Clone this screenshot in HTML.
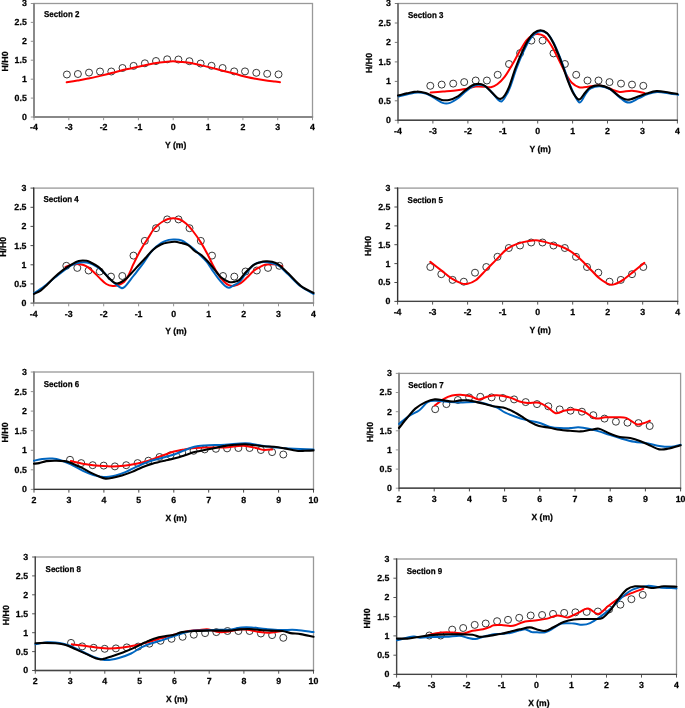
<!DOCTYPE html>
<html><head><meta charset="utf-8"><style>
html,body{margin:0;padding:0;background:#fff;width:685px;height:708px;overflow:hidden}
svg{display:block;will-change:transform}
text{text-rendering:geometricPrecision;font-family:"Liberation Sans",sans-serif;font-weight:bold;font-size:8.8px;fill:#000;stroke:#000;stroke-width:0.25px}
</style></head><body>
<svg width="685" height="708" viewBox="0 0 685 708"><g><rect x="34.0" y="3.5" width="278.5" height="113.5" fill="none" stroke="#999" stroke-width="1.3"/>
<line x1="34.0" y1="2.9" x2="34.0" y2="117.6" stroke="#888" stroke-width="1.9"/>
<line x1="33.4" y1="117.0" x2="313.1" y2="117.0" stroke="#888" stroke-width="1.9"/>
<line x1="30.8" y1="117.0" x2="34.0" y2="117.0" stroke="#888" stroke-width="0.9"/>
<text x="26.8" y="119.9" text-anchor="end">0</text>
<line x1="30.8" y1="98.1" x2="34.0" y2="98.1" stroke="#888" stroke-width="0.9"/>
<text x="26.8" y="101.0" text-anchor="end">0.5</text>
<line x1="30.8" y1="79.2" x2="34.0" y2="79.2" stroke="#888" stroke-width="0.9"/>
<text x="26.8" y="82.1" text-anchor="end">1</text>
<line x1="30.8" y1="60.2" x2="34.0" y2="60.2" stroke="#888" stroke-width="0.9"/>
<text x="26.8" y="63.1" text-anchor="end">1.5</text>
<line x1="30.8" y1="41.3" x2="34.0" y2="41.3" stroke="#888" stroke-width="0.9"/>
<text x="26.8" y="44.2" text-anchor="end">2</text>
<line x1="30.8" y1="22.4" x2="34.0" y2="22.4" stroke="#888" stroke-width="0.9"/>
<text x="26.8" y="25.3" text-anchor="end">2.5</text>
<line x1="30.8" y1="3.5" x2="34.0" y2="3.5" stroke="#888" stroke-width="0.9"/>
<text x="26.8" y="6.4" text-anchor="end">3</text>
<line x1="34.0" y1="117.0" x2="34.0" y2="120.2" stroke="#888" stroke-width="0.9"/>
<text x="34.0" y="130.4" text-anchor="middle">-4</text>
<line x1="68.8" y1="117.0" x2="68.8" y2="120.2" stroke="#888" stroke-width="0.9"/>
<text x="68.8" y="130.4" text-anchor="middle">-3</text>
<line x1="103.6" y1="117.0" x2="103.6" y2="120.2" stroke="#888" stroke-width="0.9"/>
<text x="103.6" y="130.4" text-anchor="middle">-2</text>
<line x1="138.4" y1="117.0" x2="138.4" y2="120.2" stroke="#888" stroke-width="0.9"/>
<text x="138.4" y="130.4" text-anchor="middle">-1</text>
<line x1="173.2" y1="117.0" x2="173.2" y2="120.2" stroke="#888" stroke-width="0.9"/>
<text x="173.2" y="130.4" text-anchor="middle">0</text>
<line x1="208.1" y1="117.0" x2="208.1" y2="120.2" stroke="#888" stroke-width="0.9"/>
<text x="208.1" y="130.4" text-anchor="middle">1</text>
<line x1="242.9" y1="117.0" x2="242.9" y2="120.2" stroke="#888" stroke-width="0.9"/>
<text x="242.9" y="130.4" text-anchor="middle">2</text>
<line x1="277.7" y1="117.0" x2="277.7" y2="120.2" stroke="#888" stroke-width="0.9"/>
<text x="277.7" y="130.4" text-anchor="middle">3</text>
<line x1="312.5" y1="117.0" x2="312.5" y2="120.2" stroke="#888" stroke-width="0.9"/>
<text x="312.5" y="130.4" text-anchor="middle">4</text>
<text x="164.9" y="148.3" textLength="21.4" lengthAdjust="spacingAndGlyphs">Y (m)</text>
<text transform="translate(7.8,61.5) rotate(-90)" text-anchor="middle">H/H0</text>
<text x="44.0" y="17.4" textLength="35.4" lengthAdjust="spacingAndGlyphs" style="font-size:8.6px">Section 2</text>
<circle cx="66.9" cy="74.5" r="3.5" fill="none" stroke="#222" stroke-width="0.9"/>
<circle cx="77.9" cy="74.0" r="3.5" fill="none" stroke="#222" stroke-width="0.9"/>
<circle cx="89.0" cy="72.6" r="3.5" fill="none" stroke="#222" stroke-width="0.9"/>
<circle cx="100.0" cy="71.5" r="3.5" fill="none" stroke="#222" stroke-width="0.9"/>
<circle cx="111.3" cy="71.5" r="3.5" fill="none" stroke="#222" stroke-width="0.9"/>
<circle cx="122.5" cy="68.0" r="3.5" fill="none" stroke="#222" stroke-width="0.9"/>
<circle cx="133.6" cy="65.9" r="3.5" fill="none" stroke="#222" stroke-width="0.9"/>
<circle cx="144.9" cy="63.3" r="3.5" fill="none" stroke="#222" stroke-width="0.9"/>
<circle cx="156.0" cy="61.0" r="3.5" fill="none" stroke="#222" stroke-width="0.9"/>
<circle cx="167.2" cy="59.3" r="3.5" fill="none" stroke="#222" stroke-width="0.9"/>
<circle cx="178.4" cy="59.5" r="3.5" fill="none" stroke="#222" stroke-width="0.9"/>
<circle cx="189.4" cy="61.2" r="3.5" fill="none" stroke="#222" stroke-width="0.9"/>
<circle cx="200.6" cy="63.5" r="3.5" fill="none" stroke="#222" stroke-width="0.9"/>
<circle cx="211.5" cy="65.8" r="3.5" fill="none" stroke="#222" stroke-width="0.9"/>
<circle cx="222.6" cy="68.0" r="3.5" fill="none" stroke="#222" stroke-width="0.9"/>
<circle cx="234.2" cy="71.4" r="3.5" fill="none" stroke="#222" stroke-width="0.9"/>
<circle cx="245.0" cy="71.4" r="3.5" fill="none" stroke="#222" stroke-width="0.9"/>
<circle cx="256.3" cy="72.8" r="3.5" fill="none" stroke="#222" stroke-width="0.9"/>
<circle cx="267.2" cy="73.8" r="3.5" fill="none" stroke="#222" stroke-width="0.9"/>
<circle cx="278.5" cy="74.4" r="3.5" fill="none" stroke="#222" stroke-width="0.9"/>
<path d="M66.7,82.3 C68.5,82.0 74.0,81.1 77.5,80.5 C81.0,79.9 84.2,79.4 88.0,78.6 C91.8,77.8 96.2,76.9 100.3,75.9 C104.4,74.9 108.8,73.8 112.6,72.8 C116.4,71.8 119.6,70.8 123.1,70.0 C126.6,69.2 130.1,68.4 133.6,67.7 C137.1,67.0 140.6,66.3 144.1,65.6 C147.6,64.9 151.1,63.9 154.6,63.3 C158.1,62.7 162.0,62.2 165.1,61.9 C168.2,61.6 170.4,61.3 173.0,61.3 C175.6,61.3 177.5,61.6 180.5,61.9 C183.5,62.2 187.5,62.5 191.0,63.1 C194.5,63.7 198.0,64.6 201.5,65.4 C205.0,66.2 208.5,67.0 212.0,67.9 C215.5,68.8 219.1,69.8 222.6,70.7 C226.1,71.6 229.6,72.4 233.1,73.3 C236.6,74.2 240.1,75.4 243.6,76.3 C247.1,77.2 250.6,77.9 254.1,78.6 C257.6,79.3 261.1,79.8 264.6,80.3 C268.1,80.8 272.5,81.2 275.1,81.5 C277.7,81.8 279.2,82.1 280.0,82.2" fill="none" stroke="#ff0000" stroke-width="2.0" stroke-linecap="round" stroke-linejoin="round"/></g>
<g><rect x="398.0" y="3.5" width="279.4" height="116.8" fill="none" stroke="#999" stroke-width="1.3"/>
<line x1="398.0" y1="2.9" x2="398.0" y2="120.9" stroke="#666" stroke-width="1.5"/>
<line x1="397.4" y1="120.3" x2="678.0" y2="120.3" stroke="#444" stroke-width="1.5"/>
<line x1="394.8" y1="120.3" x2="398.0" y2="120.3" stroke="#666" stroke-width="0.9"/>
<text x="390.8" y="123.2" text-anchor="end">0</text>
<line x1="394.8" y1="100.8" x2="398.0" y2="100.8" stroke="#666" stroke-width="0.9"/>
<text x="390.8" y="103.7" text-anchor="end">0.5</text>
<line x1="394.8" y1="81.4" x2="398.0" y2="81.4" stroke="#666" stroke-width="0.9"/>
<text x="390.8" y="84.3" text-anchor="end">1</text>
<line x1="394.8" y1="61.9" x2="398.0" y2="61.9" stroke="#666" stroke-width="0.9"/>
<text x="390.8" y="64.8" text-anchor="end">1.5</text>
<line x1="394.8" y1="42.4" x2="398.0" y2="42.4" stroke="#666" stroke-width="0.9"/>
<text x="390.8" y="45.3" text-anchor="end">2</text>
<line x1="394.8" y1="23.0" x2="398.0" y2="23.0" stroke="#666" stroke-width="0.9"/>
<text x="390.8" y="25.9" text-anchor="end">2.5</text>
<line x1="394.8" y1="3.5" x2="398.0" y2="3.5" stroke="#666" stroke-width="0.9"/>
<text x="390.8" y="6.4" text-anchor="end">3</text>
<line x1="398.0" y1="120.3" x2="398.0" y2="123.5" stroke="#444" stroke-width="0.9"/>
<text x="398.0" y="133.7" text-anchor="middle">-4</text>
<line x1="432.9" y1="120.3" x2="432.9" y2="123.5" stroke="#444" stroke-width="0.9"/>
<text x="432.9" y="133.7" text-anchor="middle">-3</text>
<line x1="467.9" y1="120.3" x2="467.9" y2="123.5" stroke="#444" stroke-width="0.9"/>
<text x="467.9" y="133.7" text-anchor="middle">-2</text>
<line x1="502.8" y1="120.3" x2="502.8" y2="123.5" stroke="#444" stroke-width="0.9"/>
<text x="502.8" y="133.7" text-anchor="middle">-1</text>
<line x1="537.7" y1="120.3" x2="537.7" y2="123.5" stroke="#444" stroke-width="0.9"/>
<text x="537.7" y="133.7" text-anchor="middle">0</text>
<line x1="572.6" y1="120.3" x2="572.6" y2="123.5" stroke="#444" stroke-width="0.9"/>
<text x="572.6" y="133.7" text-anchor="middle">1</text>
<line x1="607.5" y1="120.3" x2="607.5" y2="123.5" stroke="#444" stroke-width="0.9"/>
<text x="607.5" y="133.7" text-anchor="middle">2</text>
<line x1="642.5" y1="120.3" x2="642.5" y2="123.5" stroke="#444" stroke-width="0.9"/>
<text x="642.5" y="133.7" text-anchor="middle">3</text>
<line x1="677.4" y1="120.3" x2="677.4" y2="123.5" stroke="#444" stroke-width="0.9"/>
<text x="677.4" y="133.7" text-anchor="middle">4</text>
<text x="529.4" y="151.6" textLength="21.4" lengthAdjust="spacingAndGlyphs">Y (m)</text>
<text transform="translate(371.6,63.0) rotate(-90)" text-anchor="middle">H/H0</text>
<text x="408.0" y="18.0" textLength="35.4" lengthAdjust="spacingAndGlyphs" style="font-size:8.6px">Section 3</text>
<circle cx="430.3" cy="85.8" r="3.5" fill="none" stroke="#222" stroke-width="0.9"/>
<circle cx="441.7" cy="84.6" r="3.5" fill="none" stroke="#222" stroke-width="0.9"/>
<circle cx="453.2" cy="83.6" r="3.5" fill="none" stroke="#222" stroke-width="0.9"/>
<circle cx="464.2" cy="82.1" r="3.5" fill="none" stroke="#222" stroke-width="0.9"/>
<circle cx="475.7" cy="80.5" r="3.5" fill="none" stroke="#222" stroke-width="0.9"/>
<circle cx="486.9" cy="80.5" r="3.5" fill="none" stroke="#222" stroke-width="0.9"/>
<circle cx="497.7" cy="74.8" r="3.5" fill="none" stroke="#222" stroke-width="0.9"/>
<circle cx="509.0" cy="64.0" r="3.5" fill="none" stroke="#222" stroke-width="0.9"/>
<circle cx="520.1" cy="53.1" r="3.5" fill="none" stroke="#222" stroke-width="0.9"/>
<circle cx="531.4" cy="40.6" r="3.5" fill="none" stroke="#222" stroke-width="0.9"/>
<circle cx="542.6" cy="40.6" r="3.5" fill="none" stroke="#222" stroke-width="0.9"/>
<circle cx="553.5" cy="53.4" r="3.5" fill="none" stroke="#222" stroke-width="0.9"/>
<circle cx="564.9" cy="64.0" r="3.5" fill="none" stroke="#222" stroke-width="0.9"/>
<circle cx="576.2" cy="74.8" r="3.5" fill="none" stroke="#222" stroke-width="0.9"/>
<circle cx="587.5" cy="80.5" r="3.5" fill="none" stroke="#222" stroke-width="0.9"/>
<circle cx="598.5" cy="80.5" r="3.5" fill="none" stroke="#222" stroke-width="0.9"/>
<circle cx="609.5" cy="82.1" r="3.5" fill="none" stroke="#222" stroke-width="0.9"/>
<circle cx="621.0" cy="83.6" r="3.5" fill="none" stroke="#222" stroke-width="0.9"/>
<circle cx="632.0" cy="84.6" r="3.5" fill="none" stroke="#222" stroke-width="0.9"/>
<circle cx="643.3" cy="85.8" r="3.5" fill="none" stroke="#222" stroke-width="0.9"/>
<path d="M430.7,92.6 C432.8,92.4 439.2,91.8 443.0,91.5 C446.8,91.2 449.5,91.1 453.2,90.7 C456.9,90.3 461.6,89.8 465.4,89.1 C469.1,88.4 472.3,87.0 475.7,86.6 C479.1,86.2 483.3,86.7 485.9,86.8 C488.4,86.9 489.1,87.6 491.0,87.2 C492.9,86.8 495.0,85.9 497.3,84.2 C499.6,82.5 502.2,80.1 504.6,76.9 C507.0,73.8 509.5,69.4 511.9,65.3 C514.3,61.2 516.8,56.2 519.2,52.1 C521.6,48.0 524.3,43.2 526.5,40.4 C528.7,37.6 530.5,36.4 532.3,35.3 C534.1,34.2 535.4,33.8 537.4,33.9 C539.4,34.0 541.7,34.2 544.0,36.1 C546.3,38.0 548.9,41.6 551.3,45.5 C553.7,49.4 556.2,54.6 558.6,59.4 C561.0,64.2 563.7,70.1 565.9,74.0 C568.1,77.9 569.6,80.6 571.8,82.8 C574.0,85.0 576.6,86.5 579.0,87.2 C581.4,87.9 583.0,87.3 586.4,87.0 C589.8,86.7 595.4,85.2 599.3,85.4 C603.1,85.7 606.1,87.4 609.5,88.5 C612.9,89.6 616.0,91.5 619.7,91.9 C623.5,92.3 627.9,90.5 632.0,90.7 C636.1,90.9 642.2,92.6 644.3,93.0" fill="none" stroke="#ff0000" stroke-width="2.0" stroke-linecap="round" stroke-linejoin="round"/>
<path d="M398.8,96.5 C400.3,96.1 404.4,94.9 407.6,94.2 C410.8,93.5 414.7,92.4 417.8,92.4 C420.9,92.3 423.8,93.0 426.5,93.9 C429.2,94.8 431.1,96.2 433.8,97.7 C436.5,99.2 439.9,102.0 442.6,102.9 C445.3,103.8 447.2,103.8 449.9,102.9 C452.6,102.0 456.0,99.6 458.7,97.7 C461.4,95.7 463.6,93.1 466.0,91.2 C468.4,89.3 471.1,87.2 473.3,86.1 C475.5,85.0 477.2,84.7 479.1,84.7 C481.0,84.7 483.0,85.0 484.9,86.1 C486.9,87.2 488.7,89.0 490.8,91.2 C492.9,93.4 496.0,97.7 497.8,99.4 C499.6,101.1 500.5,101.9 501.8,101.3 C503.1,100.7 504.5,98.0 505.8,95.8 C507.1,93.6 508.1,92.5 509.8,88.0 C511.6,83.5 514.2,74.6 516.3,69.0 C518.4,63.4 520.1,59.0 522.2,54.4 C524.3,49.8 526.7,44.6 528.8,41.2 C530.9,37.8 532.5,35.6 534.6,33.9 C536.7,32.2 539.0,31.0 541.2,31.0 C543.4,31.0 545.6,31.9 547.7,33.9 C549.8,35.8 551.6,39.0 553.6,42.7 C555.5,46.3 557.7,51.7 559.4,55.8 C561.1,59.9 562.2,63.1 563.8,67.5 C565.4,71.9 567.2,77.7 568.9,82.1 C570.6,86.5 572.2,90.4 574.0,93.8 C575.8,97.2 577.8,102.5 579.8,102.5 C581.8,102.5 583.9,96.1 585.7,93.8 C587.5,91.5 588.4,89.7 590.8,88.4 C593.2,87.1 596.8,86.0 600.1,86.2 C603.3,86.4 606.9,87.3 610.3,89.3 C613.7,91.3 617.4,95.9 620.5,98.1 C623.6,100.3 625.6,102.6 628.7,102.6 C631.8,102.6 635.8,99.5 638.9,98.1 C642.0,96.8 644.0,95.4 647.1,94.4 C650.2,93.4 653.5,92.1 657.3,91.9 C661.0,91.7 666.1,92.9 669.6,93.4 C673.1,93.9 676.8,94.6 678.2,94.8" fill="none" stroke="#0066c0" stroke-width="2.0" stroke-linecap="round" stroke-linejoin="round"/>
<path d="M398.0,95.5 C399.5,95.2 403.6,94.1 406.8,93.4 C410.0,92.8 413.9,91.6 417.0,91.6 C420.1,91.5 423.0,92.3 425.7,93.1 C428.4,93.9 430.3,95.2 433.0,96.3 C435.7,97.4 439.1,99.3 441.8,99.9 C444.5,100.5 446.4,100.5 449.1,99.9 C451.8,99.3 455.2,97.9 457.9,96.3 C460.6,94.7 462.8,92.2 465.2,90.4 C467.6,88.6 470.3,86.4 472.5,85.3 C474.7,84.2 476.4,83.9 478.3,83.9 C480.2,83.9 482.2,84.2 484.1,85.3 C486.1,86.4 487.9,88.4 490.0,90.4 C492.1,92.4 495.2,96.1 497.0,97.5 C498.8,98.9 499.7,99.2 501.0,98.8 C502.3,98.4 503.7,96.9 505.0,95.0 C506.3,93.1 507.2,91.7 509.0,87.2 C510.8,82.7 513.4,73.8 515.5,68.2 C517.6,62.6 519.3,58.2 521.4,53.6 C523.5,49.0 525.9,43.8 528.0,40.4 C530.1,37.0 531.7,34.8 533.8,33.1 C535.9,31.4 538.2,30.2 540.4,30.2 C542.6,30.2 544.8,31.2 546.9,33.1 C549.0,35.1 550.8,38.2 552.8,41.9 C554.8,45.5 556.9,50.9 558.6,55.0 C560.3,59.1 561.4,62.3 563.0,66.7 C564.6,71.1 566.4,76.9 568.1,81.3 C569.8,85.7 571.4,90.0 573.2,93.0 C575.0,96.0 577.0,99.6 579.0,99.6 C581.0,99.6 583.1,95.0 584.9,93.0 C586.7,91.0 587.6,88.9 590.0,87.6 C592.4,86.3 596.0,85.2 599.3,85.4 C602.5,85.6 606.1,86.6 609.5,88.5 C612.9,90.4 616.6,94.7 619.7,96.6 C622.8,98.5 624.8,99.7 627.9,99.7 C631.0,99.7 635.0,97.6 638.1,96.6 C641.2,95.6 643.2,94.5 646.3,93.6 C649.4,92.7 652.8,91.3 656.5,91.1 C660.2,90.9 665.3,92.1 668.8,92.6 C672.3,93.1 676.0,93.8 677.4,94.0" fill="none" stroke="#000" stroke-width="2.1" stroke-linecap="round" stroke-linejoin="round"/></g>
<g><rect x="33.7" y="188.1" width="279.8" height="115.0" fill="none" stroke="#999" stroke-width="1.3"/>
<line x1="33.7" y1="187.5" x2="33.7" y2="303.7" stroke="#333" stroke-width="1.3"/>
<line x1="33.1" y1="303.1" x2="314.1" y2="303.1" stroke="#888" stroke-width="1.5"/>
<line x1="30.5" y1="303.1" x2="33.7" y2="303.1" stroke="#333" stroke-width="0.9"/>
<text x="26.5" y="306.0" text-anchor="end">0</text>
<line x1="30.5" y1="283.9" x2="33.7" y2="283.9" stroke="#333" stroke-width="0.9"/>
<text x="26.5" y="286.8" text-anchor="end">0.5</text>
<line x1="30.5" y1="264.8" x2="33.7" y2="264.8" stroke="#333" stroke-width="0.9"/>
<text x="26.5" y="267.7" text-anchor="end">1</text>
<line x1="30.5" y1="245.6" x2="33.7" y2="245.6" stroke="#333" stroke-width="0.9"/>
<text x="26.5" y="248.5" text-anchor="end">1.5</text>
<line x1="30.5" y1="226.4" x2="33.7" y2="226.4" stroke="#333" stroke-width="0.9"/>
<text x="26.5" y="229.3" text-anchor="end">2</text>
<line x1="30.5" y1="207.3" x2="33.7" y2="207.3" stroke="#333" stroke-width="0.9"/>
<text x="26.5" y="210.2" text-anchor="end">2.5</text>
<line x1="30.5" y1="188.1" x2="33.7" y2="188.1" stroke="#333" stroke-width="0.9"/>
<text x="26.5" y="191.0" text-anchor="end">3</text>
<line x1="33.7" y1="303.1" x2="33.7" y2="306.3" stroke="#888" stroke-width="0.9"/>
<text x="33.7" y="316.5" text-anchor="middle">-4</text>
<line x1="68.7" y1="303.1" x2="68.7" y2="306.3" stroke="#888" stroke-width="0.9"/>
<text x="68.7" y="316.5" text-anchor="middle">-3</text>
<line x1="103.7" y1="303.1" x2="103.7" y2="306.3" stroke="#888" stroke-width="0.9"/>
<text x="103.7" y="316.5" text-anchor="middle">-2</text>
<line x1="138.6" y1="303.1" x2="138.6" y2="306.3" stroke="#888" stroke-width="0.9"/>
<text x="138.6" y="316.5" text-anchor="middle">-1</text>
<line x1="173.6" y1="303.1" x2="173.6" y2="306.3" stroke="#888" stroke-width="0.9"/>
<text x="173.6" y="316.5" text-anchor="middle">0</text>
<line x1="208.6" y1="303.1" x2="208.6" y2="306.3" stroke="#888" stroke-width="0.9"/>
<text x="208.6" y="316.5" text-anchor="middle">1</text>
<line x1="243.6" y1="303.1" x2="243.6" y2="306.3" stroke="#888" stroke-width="0.9"/>
<text x="243.6" y="316.5" text-anchor="middle">2</text>
<line x1="278.5" y1="303.1" x2="278.5" y2="306.3" stroke="#888" stroke-width="0.9"/>
<text x="278.5" y="316.5" text-anchor="middle">3</text>
<line x1="313.5" y1="303.1" x2="313.5" y2="306.3" stroke="#888" stroke-width="0.9"/>
<text x="313.5" y="316.5" text-anchor="middle">4</text>
<text x="165.3" y="334.4" textLength="21.4" lengthAdjust="spacingAndGlyphs">Y (m)</text>
<text transform="translate(6.0,246.8) rotate(-90)" text-anchor="middle">H/H0</text>
<text x="43.4" y="201.9" textLength="35.4" lengthAdjust="spacingAndGlyphs" style="font-size:8.6px">Section 4</text>
<circle cx="66.3" cy="265.8" r="3.5" fill="none" stroke="#222" stroke-width="0.9"/>
<circle cx="77.3" cy="267.9" r="3.5" fill="none" stroke="#222" stroke-width="0.9"/>
<circle cx="88.6" cy="270.5" r="3.5" fill="none" stroke="#222" stroke-width="0.9"/>
<circle cx="99.8" cy="271.5" r="3.5" fill="none" stroke="#222" stroke-width="0.9"/>
<circle cx="111.0" cy="276.6" r="3.5" fill="none" stroke="#222" stroke-width="0.9"/>
<circle cx="122.3" cy="276.0" r="3.5" fill="none" stroke="#222" stroke-width="0.9"/>
<circle cx="133.5" cy="255.6" r="3.5" fill="none" stroke="#222" stroke-width="0.9"/>
<circle cx="144.8" cy="240.9" r="3.5" fill="none" stroke="#222" stroke-width="0.9"/>
<circle cx="156.0" cy="228.2" r="3.5" fill="none" stroke="#222" stroke-width="0.9"/>
<circle cx="167.2" cy="219.4" r="3.5" fill="none" stroke="#222" stroke-width="0.9"/>
<circle cx="178.5" cy="219.4" r="3.5" fill="none" stroke="#222" stroke-width="0.9"/>
<circle cx="189.5" cy="228.2" r="3.5" fill="none" stroke="#222" stroke-width="0.9"/>
<circle cx="200.8" cy="240.9" r="3.5" fill="none" stroke="#222" stroke-width="0.9"/>
<circle cx="212.0" cy="255.6" r="3.5" fill="none" stroke="#222" stroke-width="0.9"/>
<circle cx="223.0" cy="276.0" r="3.5" fill="none" stroke="#222" stroke-width="0.9"/>
<circle cx="234.3" cy="276.6" r="3.5" fill="none" stroke="#222" stroke-width="0.9"/>
<circle cx="245.5" cy="271.5" r="3.5" fill="none" stroke="#222" stroke-width="0.9"/>
<circle cx="256.8" cy="270.5" r="3.5" fill="none" stroke="#222" stroke-width="0.9"/>
<circle cx="268.0" cy="267.9" r="3.5" fill="none" stroke="#222" stroke-width="0.9"/>
<circle cx="279.3" cy="265.8" r="3.5" fill="none" stroke="#222" stroke-width="0.9"/>
<path d="M65.5,266.9 C66.8,266.5 71.0,264.7 73.4,264.3 C75.8,263.9 77.8,264.0 80.0,264.3 C82.2,264.6 84.4,265.1 86.6,266.3 C88.8,267.5 90.9,269.5 93.1,271.5 C95.3,273.5 97.5,276.0 99.7,278.1 C101.9,280.2 104.1,282.7 106.3,284.0 C108.5,285.3 110.8,285.8 112.8,286.0 C114.8,286.2 116.2,286.0 118.1,285.3 C120.0,284.6 122.3,283.6 124.0,282.0 C125.7,280.4 126.5,279.0 128.1,276.0 C129.7,273.0 131.7,267.9 133.4,264.2 C135.2,260.5 136.8,257.0 138.6,253.7 C140.3,250.4 142.2,247.3 143.9,244.5 C145.7,241.7 147.6,239.0 149.1,236.6 C150.6,234.2 151.6,231.9 153.1,230.0 C154.6,228.1 156.4,226.4 158.0,225.0 C159.6,223.6 161.1,222.5 162.8,221.5 C164.5,220.5 166.1,219.6 168.0,219.0 C169.9,218.4 172.0,218.1 174.0,218.2 C176.0,218.3 178.0,218.6 180.0,219.5 C182.0,220.4 184.0,221.8 186.0,223.5 C188.0,225.2 189.5,226.7 192.1,230.0 C194.7,233.3 198.7,238.9 201.3,243.1 C203.9,247.3 205.9,251.3 207.9,255.0 C209.9,258.7 211.3,262.2 213.1,265.5 C214.8,268.8 216.7,272.1 218.4,274.7 C220.2,277.3 221.8,279.4 223.6,281.2 C225.3,282.9 227.2,284.4 228.9,285.2 C230.7,286.0 232.1,286.1 234.1,285.8 C236.1,285.5 238.5,284.6 240.7,283.2 C242.9,281.8 245.1,279.4 247.3,277.3 C249.5,275.2 251.6,272.4 253.8,270.7 C256.0,268.9 258.5,267.8 260.4,266.8 C262.3,265.8 263.4,265.2 265.0,264.8 C266.6,264.4 268.1,264.3 270.0,264.2 C271.9,264.1 274.1,264.0 276.2,264.4 C278.2,264.8 281.3,266.1 282.3,266.4" fill="none" stroke="#ff0000" stroke-width="2.0" stroke-linecap="round" stroke-linejoin="round"/>
<path d="M34.0,293.2 C35.7,292.1 40.5,289.1 44.0,286.5 C47.5,283.9 50.5,281.0 55.0,277.5 C59.5,274.0 66.6,268.1 70.8,265.6 C75.0,263.1 76.9,263.0 80.0,262.6 C83.1,262.2 86.4,262.3 89.2,263.0 C92.0,263.7 94.7,265.4 97.1,266.9 C99.5,268.4 101.4,270.1 103.6,272.2 C105.8,274.3 108.2,277.4 110.2,279.4 C112.2,281.4 113.7,282.6 115.5,284.0 C117.3,285.4 119.4,287.3 120.9,287.8 C122.5,288.3 122.7,288.8 124.8,286.8 C126.9,284.8 130.4,279.8 133.4,276.0 C136.4,272.2 139.5,268.4 142.6,264.2 C145.7,260.0 148.7,254.5 151.8,251.0 C154.9,247.5 158.2,244.9 161.0,243.1 C163.8,241.2 166.5,240.5 168.8,239.9 C171.1,239.3 172.9,239.4 175.0,239.5 C177.1,239.6 179.4,239.7 181.6,240.5 C183.8,241.3 185.9,243.0 188.1,244.5 C190.3,246.0 192.7,247.9 194.7,249.7 C196.7,251.4 198.0,253.0 200.0,255.0 C202.0,257.0 204.5,259.1 206.5,261.5 C208.5,263.9 209.8,266.5 211.8,269.4 C213.8,272.2 216.2,275.9 218.4,278.6 C220.6,281.3 223.2,284.3 224.9,285.8 C226.7,287.3 227.6,287.8 228.9,287.8 C230.2,287.8 231.1,286.8 232.8,285.8 C234.6,284.8 237.2,284.0 239.4,281.9 C241.6,279.8 243.6,276.2 246.0,273.4 C248.4,270.5 251.4,266.7 253.8,264.8 C256.2,262.9 258.0,262.6 260.4,262.2 C262.8,261.8 265.0,261.8 268.0,262.3 C271.0,262.8 274.8,263.3 278.2,265.4 C281.6,267.4 284.6,271.1 288.4,274.6 C292.1,278.1 296.5,283.1 300.7,286.3 C304.9,289.5 311.4,292.7 313.5,294.0" fill="none" stroke="#0066c0" stroke-width="2.0" stroke-linecap="round" stroke-linejoin="round"/>
<path d="M34.0,293.9 C35.1,293.3 38.4,292.1 40.6,290.6 C42.8,289.1 44.7,287.0 47.1,284.7 C49.5,282.4 52.4,279.2 55.0,276.8 C57.6,274.4 60.3,272.2 62.9,270.2 C65.5,268.2 68.2,266.5 70.8,265.0 C73.4,263.5 76.1,261.7 78.7,261.0 C81.3,260.3 84.4,260.5 86.6,260.8 C88.8,261.1 89.8,262.0 91.8,263.0 C93.8,264.0 96.4,265.4 98.4,266.9 C100.4,268.4 101.8,270.3 103.6,272.2 C105.3,274.1 107.1,276.4 108.9,278.1 C110.7,279.9 112.7,281.8 114.2,282.7 C115.7,283.6 116.6,283.7 118.1,283.4 C119.6,283.1 121.5,281.9 123.0,281.0 C124.5,280.1 124.8,280.1 127.0,278.0 C129.2,275.9 133.0,271.4 136.0,268.1 C139.0,264.8 142.3,261.4 145.2,258.3 C148.0,255.2 150.5,252.0 153.1,249.7 C155.7,247.4 158.5,245.7 161.0,244.5 C163.5,243.3 165.7,242.9 168.0,242.5 C170.3,242.1 172.7,241.7 175.0,241.8 C177.3,241.9 179.4,242.6 181.6,243.1 C183.8,243.6 185.9,243.8 188.1,245.1 C190.3,246.4 192.5,249.3 194.7,251.0 C196.9,252.7 199.1,253.2 201.3,255.0 C203.5,256.8 205.7,259.1 207.9,261.5 C210.1,263.9 212.2,266.8 214.4,269.4 C216.6,272.0 218.6,275.2 221.0,277.3 C223.4,279.4 226.7,281.1 228.9,281.9 C231.1,282.7 232.3,282.2 234.1,281.9 C235.8,281.6 237.4,281.5 239.4,279.9 C241.4,278.2 243.6,274.5 246.0,272.0 C248.4,269.5 251.4,266.4 253.8,264.8 C256.2,263.2 258.4,262.8 260.4,262.2 C262.4,261.6 264.1,261.4 266.0,261.3 C267.9,261.2 270.0,261.3 272.0,261.8 C274.0,262.3 275.5,262.4 278.2,264.4 C280.9,266.4 284.6,270.0 288.4,273.6 C292.1,277.2 296.5,282.6 300.7,285.8 C304.9,289.0 311.4,291.8 313.5,293.0" fill="none" stroke="#000" stroke-width="2.1" stroke-linecap="round" stroke-linejoin="round"/></g>
<g><rect x="397.6" y="188.1" width="280.1" height="113.3" fill="none" stroke="#999" stroke-width="1.3"/>
<line x1="397.6" y1="187.5" x2="397.6" y2="302.0" stroke="#333" stroke-width="1.3"/>
<line x1="397.0" y1="301.4" x2="678.3" y2="301.4" stroke="#444" stroke-width="1.4"/>
<line x1="394.4" y1="301.4" x2="397.6" y2="301.4" stroke="#333" stroke-width="0.9"/>
<text x="390.4" y="304.3" text-anchor="end">0</text>
<line x1="394.4" y1="282.5" x2="397.6" y2="282.5" stroke="#333" stroke-width="0.9"/>
<text x="390.4" y="285.4" text-anchor="end">0.5</text>
<line x1="394.4" y1="263.6" x2="397.6" y2="263.6" stroke="#333" stroke-width="0.9"/>
<text x="390.4" y="266.5" text-anchor="end">1</text>
<line x1="394.4" y1="244.7" x2="397.6" y2="244.7" stroke="#333" stroke-width="0.9"/>
<text x="390.4" y="247.6" text-anchor="end">1.5</text>
<line x1="394.4" y1="225.9" x2="397.6" y2="225.9" stroke="#333" stroke-width="0.9"/>
<text x="390.4" y="228.8" text-anchor="end">2</text>
<line x1="394.4" y1="207.0" x2="397.6" y2="207.0" stroke="#333" stroke-width="0.9"/>
<text x="390.4" y="209.9" text-anchor="end">2.5</text>
<line x1="394.4" y1="188.1" x2="397.6" y2="188.1" stroke="#333" stroke-width="0.9"/>
<text x="390.4" y="191.0" text-anchor="end">3</text>
<line x1="397.6" y1="301.4" x2="397.6" y2="304.6" stroke="#444" stroke-width="0.9"/>
<text x="397.6" y="314.8" text-anchor="middle">-4</text>
<line x1="432.6" y1="301.4" x2="432.6" y2="304.6" stroke="#444" stroke-width="0.9"/>
<text x="432.6" y="314.8" text-anchor="middle">-3</text>
<line x1="467.6" y1="301.4" x2="467.6" y2="304.6" stroke="#444" stroke-width="0.9"/>
<text x="467.6" y="314.8" text-anchor="middle">-2</text>
<line x1="502.6" y1="301.4" x2="502.6" y2="304.6" stroke="#444" stroke-width="0.9"/>
<text x="502.6" y="314.8" text-anchor="middle">-1</text>
<line x1="537.7" y1="301.4" x2="537.7" y2="304.6" stroke="#444" stroke-width="0.9"/>
<text x="537.7" y="314.8" text-anchor="middle">0</text>
<line x1="572.7" y1="301.4" x2="572.7" y2="304.6" stroke="#444" stroke-width="0.9"/>
<text x="572.7" y="314.8" text-anchor="middle">1</text>
<line x1="607.7" y1="301.4" x2="607.7" y2="304.6" stroke="#444" stroke-width="0.9"/>
<text x="607.7" y="314.8" text-anchor="middle">2</text>
<line x1="642.7" y1="301.4" x2="642.7" y2="304.6" stroke="#444" stroke-width="0.9"/>
<text x="642.7" y="314.8" text-anchor="middle">3</text>
<line x1="677.7" y1="301.4" x2="677.7" y2="304.6" stroke="#444" stroke-width="0.9"/>
<text x="677.7" y="314.8" text-anchor="middle">4</text>
<text x="529.4" y="332.7" textLength="21.4" lengthAdjust="spacingAndGlyphs">Y (m)</text>
<text transform="translate(371.1,246.0) rotate(-90)" text-anchor="middle">H/H0</text>
<text x="407.6" y="202.5" textLength="35.4" lengthAdjust="spacingAndGlyphs" style="font-size:8.6px">Section 5</text>
<circle cx="430.3" cy="267.0" r="3.5" fill="none" stroke="#222" stroke-width="0.9"/>
<circle cx="441.3" cy="274.2" r="3.5" fill="none" stroke="#222" stroke-width="0.9"/>
<circle cx="452.6" cy="279.9" r="3.5" fill="none" stroke="#222" stroke-width="0.9"/>
<circle cx="463.8" cy="281.7" r="3.5" fill="none" stroke="#222" stroke-width="0.9"/>
<circle cx="475.0" cy="272.7" r="3.5" fill="none" stroke="#222" stroke-width="0.9"/>
<circle cx="486.3" cy="267.0" r="3.5" fill="none" stroke="#222" stroke-width="0.9"/>
<circle cx="497.5" cy="256.8" r="3.5" fill="none" stroke="#222" stroke-width="0.9"/>
<circle cx="508.8" cy="248.0" r="3.5" fill="none" stroke="#222" stroke-width="0.9"/>
<circle cx="520.0" cy="245.5" r="3.5" fill="none" stroke="#222" stroke-width="0.9"/>
<circle cx="531.2" cy="242.5" r="3.5" fill="none" stroke="#222" stroke-width="0.9"/>
<circle cx="542.5" cy="242.5" r="3.5" fill="none" stroke="#222" stroke-width="0.9"/>
<circle cx="553.5" cy="245.5" r="3.5" fill="none" stroke="#222" stroke-width="0.9"/>
<circle cx="564.8" cy="248.0" r="3.5" fill="none" stroke="#222" stroke-width="0.9"/>
<circle cx="576.0" cy="256.8" r="3.5" fill="none" stroke="#222" stroke-width="0.9"/>
<circle cx="587.0" cy="267.0" r="3.5" fill="none" stroke="#222" stroke-width="0.9"/>
<circle cx="598.3" cy="272.7" r="3.5" fill="none" stroke="#222" stroke-width="0.9"/>
<circle cx="609.5" cy="281.7" r="3.5" fill="none" stroke="#222" stroke-width="0.9"/>
<circle cx="620.8" cy="279.9" r="3.5" fill="none" stroke="#222" stroke-width="0.9"/>
<circle cx="632.0" cy="274.2" r="3.5" fill="none" stroke="#222" stroke-width="0.9"/>
<circle cx="643.3" cy="267.0" r="3.5" fill="none" stroke="#222" stroke-width="0.9"/>
<path d="M430.3,261.9 C432.1,263.3 437.4,267.4 440.9,270.1 C444.4,272.8 447.7,276.0 451.1,278.2 C454.5,280.4 458.7,282.5 461.4,283.4 C464.1,284.3 465.1,284.3 467.5,283.8 C469.9,283.3 472.6,282.6 475.7,280.3 C478.8,278.0 482.5,273.5 485.9,270.1 C489.3,266.7 492.7,263.3 496.1,259.9 C499.5,256.5 502.9,252.2 506.3,249.6 C509.7,247.0 512.8,245.5 516.5,244.1 C520.2,242.7 525.2,241.6 528.8,241.0 C532.4,240.4 534.8,240.1 538.0,240.4 C541.2,240.7 544.8,242.1 548.2,242.9 C551.6,243.8 555.0,244.3 558.4,245.5 C561.8,246.7 565.3,248.1 568.7,250.2 C572.1,252.2 575.5,254.8 578.9,257.8 C582.3,260.8 585.7,264.6 589.1,268.0 C592.5,271.4 595.9,275.5 599.3,278.2 C602.7,280.9 606.8,283.5 609.5,284.4 C612.2,285.3 613.3,284.6 615.7,283.8 C618.1,283.0 620.7,281.4 623.8,279.3 C626.9,277.2 630.7,273.8 634.1,271.1 C637.5,268.4 642.6,264.3 644.3,262.9" fill="none" stroke="#ff0000" stroke-width="2.0" stroke-linecap="round" stroke-linejoin="round"/></g>
<g><rect x="34.0" y="372.0" width="279.5" height="117.4" fill="none" stroke="#999" stroke-width="1.3"/>
<line x1="34.0" y1="371.4" x2="34.0" y2="490.0" stroke="#888" stroke-width="1.8"/>
<line x1="33.4" y1="489.4" x2="314.1" y2="489.4" stroke="#333" stroke-width="1.3"/>
<line x1="30.8" y1="489.4" x2="34.0" y2="489.4" stroke="#888" stroke-width="0.9"/>
<text x="26.8" y="492.3" text-anchor="end">0</text>
<line x1="30.8" y1="469.8" x2="34.0" y2="469.8" stroke="#888" stroke-width="0.9"/>
<text x="26.8" y="472.7" text-anchor="end">0.5</text>
<line x1="30.8" y1="450.3" x2="34.0" y2="450.3" stroke="#888" stroke-width="0.9"/>
<text x="26.8" y="453.2" text-anchor="end">1</text>
<line x1="30.8" y1="430.7" x2="34.0" y2="430.7" stroke="#888" stroke-width="0.9"/>
<text x="26.8" y="433.6" text-anchor="end">1.5</text>
<line x1="30.8" y1="411.1" x2="34.0" y2="411.1" stroke="#888" stroke-width="0.9"/>
<text x="26.8" y="414.0" text-anchor="end">2</text>
<line x1="30.8" y1="391.6" x2="34.0" y2="391.6" stroke="#888" stroke-width="0.9"/>
<text x="26.8" y="394.5" text-anchor="end">2.5</text>
<line x1="30.8" y1="372.0" x2="34.0" y2="372.0" stroke="#888" stroke-width="0.9"/>
<text x="26.8" y="374.9" text-anchor="end">3</text>
<line x1="34.0" y1="489.4" x2="34.0" y2="492.6" stroke="#333" stroke-width="0.9"/>
<text x="34.0" y="502.8" text-anchor="middle">2</text>
<line x1="68.9" y1="489.4" x2="68.9" y2="492.6" stroke="#333" stroke-width="0.9"/>
<text x="68.9" y="502.8" text-anchor="middle">3</text>
<line x1="103.9" y1="489.4" x2="103.9" y2="492.6" stroke="#333" stroke-width="0.9"/>
<text x="103.9" y="502.8" text-anchor="middle">4</text>
<line x1="138.8" y1="489.4" x2="138.8" y2="492.6" stroke="#333" stroke-width="0.9"/>
<text x="138.8" y="502.8" text-anchor="middle">5</text>
<line x1="173.8" y1="489.4" x2="173.8" y2="492.6" stroke="#333" stroke-width="0.9"/>
<text x="173.8" y="502.8" text-anchor="middle">6</text>
<line x1="208.7" y1="489.4" x2="208.7" y2="492.6" stroke="#333" stroke-width="0.9"/>
<text x="208.7" y="502.8" text-anchor="middle">7</text>
<line x1="243.6" y1="489.4" x2="243.6" y2="492.6" stroke="#333" stroke-width="0.9"/>
<text x="243.6" y="502.8" text-anchor="middle">8</text>
<line x1="278.6" y1="489.4" x2="278.6" y2="492.6" stroke="#333" stroke-width="0.9"/>
<text x="278.6" y="502.8" text-anchor="middle">9</text>
<line x1="313.5" y1="489.4" x2="313.5" y2="492.6" stroke="#333" stroke-width="0.9"/>
<text x="313.5" y="502.8" text-anchor="middle">10</text>
<text x="165.4" y="520.7" textLength="21.4" lengthAdjust="spacingAndGlyphs">X (m)</text>
<text transform="translate(7.8,432.5) rotate(-90)" text-anchor="middle">H/H0</text>
<text x="43.8" y="386.9" textLength="35.4" lengthAdjust="spacingAndGlyphs" style="font-size:8.6px">Section 6</text>
<circle cx="70.0" cy="459.8" r="3.5" fill="none" stroke="#222" stroke-width="0.9"/>
<circle cx="81.2" cy="463.1" r="3.5" fill="none" stroke="#222" stroke-width="0.9"/>
<circle cx="92.7" cy="465.2" r="3.5" fill="none" stroke="#222" stroke-width="0.9"/>
<circle cx="103.7" cy="465.6" r="3.5" fill="none" stroke="#222" stroke-width="0.9"/>
<circle cx="114.9" cy="466.4" r="3.5" fill="none" stroke="#222" stroke-width="0.9"/>
<circle cx="126.2" cy="465.2" r="3.5" fill="none" stroke="#222" stroke-width="0.9"/>
<circle cx="137.6" cy="463.1" r="3.5" fill="none" stroke="#222" stroke-width="0.9"/>
<circle cx="148.4" cy="460.7" r="3.5" fill="none" stroke="#222" stroke-width="0.9"/>
<circle cx="159.5" cy="457.0" r="3.5" fill="none" stroke="#222" stroke-width="0.9"/>
<circle cx="170.5" cy="455.3" r="3.5" fill="none" stroke="#222" stroke-width="0.9"/>
<circle cx="182.2" cy="452.9" r="3.5" fill="none" stroke="#222" stroke-width="0.9"/>
<circle cx="193.6" cy="450.8" r="3.5" fill="none" stroke="#222" stroke-width="0.9"/>
<circle cx="204.7" cy="449.4" r="3.5" fill="none" stroke="#222" stroke-width="0.9"/>
<circle cx="215.9" cy="448.8" r="3.5" fill="none" stroke="#222" stroke-width="0.9"/>
<circle cx="227.1" cy="448.4" r="3.5" fill="none" stroke="#222" stroke-width="0.9"/>
<circle cx="238.4" cy="448.0" r="3.5" fill="none" stroke="#222" stroke-width="0.9"/>
<circle cx="249.6" cy="448.0" r="3.5" fill="none" stroke="#222" stroke-width="0.9"/>
<circle cx="260.9" cy="450.0" r="3.5" fill="none" stroke="#222" stroke-width="0.9"/>
<circle cx="272.1" cy="452.1" r="3.5" fill="none" stroke="#222" stroke-width="0.9"/>
<circle cx="283.3" cy="454.5" r="3.5" fill="none" stroke="#222" stroke-width="0.9"/>
<path d="M70.8,461.1 C72.8,461.5 78.9,462.9 83.0,463.7 C87.1,464.4 90.5,465.2 95.3,465.6 C100.1,466.1 106.9,466.4 111.7,466.4 C116.5,466.4 119.8,466.2 123.9,465.8 C128.0,465.4 132.1,464.6 136.2,463.7 C140.3,462.8 144.3,461.9 148.4,460.7 C152.5,459.4 156.4,457.7 160.7,456.2 C165.0,454.7 170.1,452.6 174.0,451.5 C177.9,450.4 180.8,450.0 184.2,449.4 C187.6,448.8 191.0,448.3 194.4,448.0 C197.8,447.7 199.6,447.5 204.7,447.4 C209.8,447.3 220.0,447.6 225.1,447.4 C230.2,447.2 231.9,446.6 235.3,446.3 C238.7,446.1 242.1,445.6 245.5,445.9 C248.9,446.2 252.6,447.3 255.7,448.0 C258.8,448.7 261.2,449.8 263.9,450.0 C266.6,450.2 270.7,449.5 272.1,449.4" fill="none" stroke="#ff0000" stroke-width="2.0" stroke-linecap="round" stroke-linejoin="round"/>
<path d="M34.0,460.7 C35.4,460.4 39.1,459.4 42.2,459.0 C45.3,458.6 49.3,458.4 52.4,458.6 C55.5,458.8 57.5,459.2 60.6,460.2 C63.7,461.1 67.1,462.5 70.8,464.3 C74.5,466.1 79.2,469.1 83.0,470.9 C86.8,472.7 89.9,474.0 93.3,475.0 C96.7,476.0 99.8,476.9 103.5,477.0 C107.2,477.1 112.0,476.2 115.7,475.4 C119.5,474.5 122.6,473.3 126.0,471.9 C129.4,470.5 132.5,468.5 136.2,466.8 C139.9,465.1 144.3,463.1 148.4,461.7 C152.5,460.3 156.4,459.4 160.7,458.2 C165.0,457.0 170.1,455.8 174.0,454.5 C177.9,453.2 180.8,451.7 184.2,450.4 C187.6,449.1 191.0,447.6 194.4,446.8 C197.8,446.0 199.6,445.9 204.7,445.5 C209.8,445.1 218.3,445.1 225.1,444.7 C231.9,444.3 239.7,443.2 245.5,443.3 C251.3,443.4 254.7,444.6 259.8,445.3 C264.9,446.0 271.4,446.9 276.2,447.4 C281.0,447.9 282.2,448.1 288.4,448.4 C294.6,448.7 309.3,449.2 313.5,449.4" fill="none" stroke="#0066c0" stroke-width="2.0" stroke-linecap="round" stroke-linejoin="round"/>
<path d="M34.0,463.7 C34.9,463.6 37.1,463.5 39.1,463.1 C41.1,462.7 43.8,461.5 46.3,461.1 C48.8,460.7 51.3,460.7 54.4,460.7 C57.5,460.7 61.6,460.6 64.7,461.1 C67.8,461.6 70.1,462.6 72.8,463.7 C75.5,464.8 77.9,465.9 81.0,467.4 C84.1,468.9 88.1,471.4 91.2,472.9 C94.3,474.4 97.0,475.7 99.4,476.6 C101.8,477.6 103.5,478.4 105.5,478.6 C107.5,478.8 109.0,478.5 111.7,478.0 C114.4,477.5 118.5,476.4 121.9,475.4 C125.3,474.4 128.7,473.3 132.1,471.9 C135.5,470.5 138.9,468.6 142.3,467.2 C145.7,465.8 148.8,464.8 152.5,463.7 C156.2,462.6 161.2,461.5 164.8,460.7 C168.4,459.9 170.8,459.5 174.0,458.6 C177.2,457.7 180.8,456.6 184.2,455.5 C187.6,454.4 191.0,453.0 194.4,452.1 C197.8,451.2 201.3,450.7 204.7,450.0 C208.1,449.3 211.5,448.7 214.9,448.0 C218.3,447.3 221.7,446.4 225.1,445.9 C228.5,445.3 231.9,445.0 235.3,444.7 C238.7,444.4 242.1,444.2 245.5,444.3 C248.9,444.4 252.6,445.0 255.7,445.3 C258.8,445.6 260.8,446.1 263.9,446.3 C267.0,446.6 270.7,446.5 274.1,446.8 C277.5,447.1 280.6,447.7 284.4,448.4 C288.1,449.1 293.2,450.4 296.6,450.8 C300.0,451.2 302.0,450.9 304.8,450.8 C307.6,450.7 312.1,450.5 313.5,450.4" fill="none" stroke="#000" stroke-width="2.1" stroke-linecap="round" stroke-linejoin="round"/></g>
<g><rect x="399.0" y="373.4" width="281.6" height="114.8" fill="none" stroke="#999" stroke-width="1.3"/>
<line x1="399.0" y1="372.8" x2="399.0" y2="488.8" stroke="#888" stroke-width="1.8"/>
<line x1="398.4" y1="488.2" x2="681.2" y2="488.2" stroke="#333" stroke-width="1.3"/>
<line x1="395.8" y1="488.2" x2="399.0" y2="488.2" stroke="#888" stroke-width="0.9"/>
<text x="391.8" y="491.1" text-anchor="end">0</text>
<line x1="395.8" y1="469.1" x2="399.0" y2="469.1" stroke="#888" stroke-width="0.9"/>
<text x="391.8" y="472.0" text-anchor="end">0.5</text>
<line x1="395.8" y1="449.9" x2="399.0" y2="449.9" stroke="#888" stroke-width="0.9"/>
<text x="391.8" y="452.8" text-anchor="end">1</text>
<line x1="395.8" y1="430.8" x2="399.0" y2="430.8" stroke="#888" stroke-width="0.9"/>
<text x="391.8" y="433.7" text-anchor="end">1.5</text>
<line x1="395.8" y1="411.7" x2="399.0" y2="411.7" stroke="#888" stroke-width="0.9"/>
<text x="391.8" y="414.6" text-anchor="end">2</text>
<line x1="395.8" y1="392.5" x2="399.0" y2="392.5" stroke="#888" stroke-width="0.9"/>
<text x="391.8" y="395.4" text-anchor="end">2.5</text>
<line x1="395.8" y1="373.4" x2="399.0" y2="373.4" stroke="#888" stroke-width="0.9"/>
<text x="391.8" y="376.3" text-anchor="end">3</text>
<line x1="399.0" y1="488.2" x2="399.0" y2="491.4" stroke="#333" stroke-width="0.9"/>
<text x="399.0" y="501.6" text-anchor="middle">2</text>
<line x1="434.2" y1="488.2" x2="434.2" y2="491.4" stroke="#333" stroke-width="0.9"/>
<text x="434.2" y="501.6" text-anchor="middle">3</text>
<line x1="469.4" y1="488.2" x2="469.4" y2="491.4" stroke="#333" stroke-width="0.9"/>
<text x="469.4" y="501.6" text-anchor="middle">4</text>
<line x1="504.6" y1="488.2" x2="504.6" y2="491.4" stroke="#333" stroke-width="0.9"/>
<text x="504.6" y="501.6" text-anchor="middle">5</text>
<line x1="539.8" y1="488.2" x2="539.8" y2="491.4" stroke="#333" stroke-width="0.9"/>
<text x="539.8" y="501.6" text-anchor="middle">6</text>
<line x1="575.0" y1="488.2" x2="575.0" y2="491.4" stroke="#333" stroke-width="0.9"/>
<text x="575.0" y="501.6" text-anchor="middle">7</text>
<line x1="610.2" y1="488.2" x2="610.2" y2="491.4" stroke="#333" stroke-width="0.9"/>
<text x="610.2" y="501.6" text-anchor="middle">8</text>
<line x1="645.4" y1="488.2" x2="645.4" y2="491.4" stroke="#333" stroke-width="0.9"/>
<text x="645.4" y="501.6" text-anchor="middle">9</text>
<line x1="680.6" y1="488.2" x2="680.6" y2="491.4" stroke="#333" stroke-width="0.9"/>
<text x="680.6" y="501.6" text-anchor="middle">10</text>
<text x="531.5" y="519.5" textLength="21.4" lengthAdjust="spacingAndGlyphs">X (m)</text>
<text transform="translate(372.8,432.0) rotate(-90)" text-anchor="middle">H/H0</text>
<text x="408.3" y="387.8" textLength="35.4" lengthAdjust="spacingAndGlyphs" style="font-size:8.6px">Section 7</text>
<circle cx="435.2" cy="409.2" r="3.5" fill="none" stroke="#222" stroke-width="0.9"/>
<circle cx="446.4" cy="404.1" r="3.5" fill="none" stroke="#222" stroke-width="0.9"/>
<circle cx="457.9" cy="400.0" r="3.5" fill="none" stroke="#222" stroke-width="0.9"/>
<circle cx="469.1" cy="397.4" r="3.5" fill="none" stroke="#222" stroke-width="0.9"/>
<circle cx="480.3" cy="396.8" r="3.5" fill="none" stroke="#222" stroke-width="0.9"/>
<circle cx="491.6" cy="397.4" r="3.5" fill="none" stroke="#222" stroke-width="0.9"/>
<circle cx="502.8" cy="398.0" r="3.5" fill="none" stroke="#222" stroke-width="0.9"/>
<circle cx="514.1" cy="399.4" r="3.5" fill="none" stroke="#222" stroke-width="0.9"/>
<circle cx="525.7" cy="402.1" r="3.5" fill="none" stroke="#222" stroke-width="0.9"/>
<circle cx="537.0" cy="404.1" r="3.5" fill="none" stroke="#222" stroke-width="0.9"/>
<circle cx="548.3" cy="406.3" r="3.5" fill="none" stroke="#222" stroke-width="0.9"/>
<circle cx="559.7" cy="409.4" r="3.5" fill="none" stroke="#222" stroke-width="0.9"/>
<circle cx="570.5" cy="410.7" r="3.5" fill="none" stroke="#222" stroke-width="0.9"/>
<circle cx="581.9" cy="411.7" r="3.5" fill="none" stroke="#222" stroke-width="0.9"/>
<circle cx="593.3" cy="415.2" r="3.5" fill="none" stroke="#222" stroke-width="0.9"/>
<circle cx="604.5" cy="418.6" r="3.5" fill="none" stroke="#222" stroke-width="0.9"/>
<circle cx="615.9" cy="421.7" r="3.5" fill="none" stroke="#222" stroke-width="0.9"/>
<circle cx="627.5" cy="422.7" r="3.5" fill="none" stroke="#222" stroke-width="0.9"/>
<circle cx="638.5" cy="423.1" r="3.5" fill="none" stroke="#222" stroke-width="0.9"/>
<circle cx="649.7" cy="426.0" r="3.5" fill="none" stroke="#222" stroke-width="0.9"/>
<path d="M434.8,405.5 C436.3,404.4 441.1,400.5 444.0,398.8 C446.9,397.1 449.4,396.2 452.1,395.5 C454.8,394.8 457.2,394.6 460.3,394.7 C463.4,394.8 467.4,395.5 470.5,396.3 C473.6,397.1 476.0,399.3 478.7,399.4 C481.4,399.5 484.2,397.5 486.9,396.8 C489.6,396.1 492.4,395.5 495.1,395.3 C497.8,395.1 500.5,395.4 503.2,395.9 C505.9,396.3 508.7,397.1 511.4,398.0 C514.1,398.9 516.9,400.7 519.6,401.5 C522.3,402.3 524.6,402.7 527.8,402.9 C531.0,403.1 535.8,402.1 539.0,402.8 C542.2,403.5 544.5,405.3 547.3,407.0 C550.1,408.7 552.8,412.6 555.6,413.2 C558.4,413.8 560.8,411.3 563.9,410.7 C567.0,410.1 570.8,409.4 574.2,409.6 C577.7,409.8 581.1,410.7 584.6,412.1 C588.1,413.6 591.5,417.4 595.0,418.3 C598.5,419.2 601.8,417.5 605.3,417.3 C608.8,417.1 612.2,417.2 615.7,417.3 C619.2,417.4 622.7,416.8 626.1,417.9 C629.5,419.0 633.6,423.3 636.4,424.2 C639.1,425.1 640.4,424.1 642.6,423.5 C644.9,422.9 648.7,421.2 649.9,420.8" fill="none" stroke="#ff0000" stroke-width="2.0" stroke-linecap="round" stroke-linejoin="round"/>
<path d="M399.0,423.9 C400.7,422.5 405.8,418.1 409.2,415.8 C412.6,413.5 416.3,412.5 419.4,410.2 C422.5,407.9 424.9,403.7 427.6,402.1 C430.3,400.5 432.1,400.8 435.8,400.8 C439.6,400.8 446.0,401.8 450.1,402.1 C454.2,402.4 455.9,402.5 460.3,402.5 C464.7,402.5 472.3,401.8 476.7,402.1 C481.1,402.4 483.5,403.2 486.9,404.1 C490.3,405.0 494.0,406.2 497.1,407.6 C500.2,409.0 502.2,411.2 505.3,412.7 C508.4,414.2 512.1,415.6 515.5,416.8 C518.9,418.0 521.8,418.9 525.7,419.9 C529.6,420.9 535.0,421.6 539.0,422.7 C543.0,423.8 545.9,425.7 549.4,426.6 C552.9,427.5 556.2,427.9 559.7,428.1 C563.2,428.4 567.0,428.2 570.1,428.1 C573.2,428.0 575.3,427.2 578.4,427.3 C581.5,427.4 585.3,428.0 588.8,428.7 C592.2,429.4 595.6,430.4 599.1,431.4 C602.6,432.4 605.7,433.7 609.5,434.9 C613.3,436.1 617.8,437.5 621.9,438.7 C626.0,439.9 630.2,441.1 634.4,441.8 C638.5,442.6 642.7,442.5 646.8,443.2 C650.9,443.9 655.1,445.3 659.2,445.9 C663.4,446.5 668.1,446.9 671.7,446.7 C675.3,446.5 679.1,445.0 680.6,444.7" fill="none" stroke="#0066c0" stroke-width="2.0" stroke-linecap="round" stroke-linejoin="round"/>
<path d="M399.0,428.0 C400.4,426.3 404.5,421.0 407.2,417.8 C409.9,414.6 412.2,411.2 415.3,408.6 C418.4,406.0 422.4,403.6 425.6,402.1 C428.9,400.6 431.7,399.7 434.8,399.4 C437.9,399.1 441.1,400.0 444.0,400.4 C446.9,400.8 449.4,401.5 452.1,401.5 C454.8,401.5 457.6,400.6 460.3,400.4 C463.0,400.2 465.8,400.1 468.5,400.4 C471.2,400.7 474.0,401.5 476.7,402.1 C479.4,402.7 482.1,403.4 484.8,404.1 C487.5,404.8 489.9,405.6 493.0,406.2 C496.1,406.8 499.8,406.7 503.2,407.6 C506.6,408.5 510.1,410.0 513.5,411.7 C516.9,413.4 520.7,415.9 523.7,417.8 C526.8,419.7 529.2,421.5 531.8,422.9 C534.3,424.3 536.1,425.2 539.0,426.0 C541.9,426.8 545.9,427.1 549.4,427.7 C552.9,428.3 556.2,429.3 559.7,429.8 C563.2,430.3 566.6,430.5 570.1,430.8 C573.6,431.1 577.0,431.6 580.5,431.4 C584.0,431.2 587.7,430.2 590.8,429.8 C593.9,429.4 596.0,428.1 599.1,428.7 C602.2,429.3 606.0,432.1 609.5,433.5 C613.0,434.9 616.3,436.2 619.8,437.0 C623.2,437.8 626.7,437.3 630.2,438.0 C633.7,438.7 637.2,439.9 640.6,441.2 C644.0,442.5 647.8,444.5 650.9,445.9 C654.0,447.3 656.4,448.9 659.2,449.4 C662.0,449.9 663.9,449.5 667.5,448.8 C671.1,448.1 678.4,445.9 680.6,445.3" fill="none" stroke="#000" stroke-width="2.1" stroke-linecap="round" stroke-linejoin="round"/></g>
<g><rect x="35.3" y="557.0" width="278.2" height="113.5" fill="none" stroke="#999" stroke-width="1.3"/>
<line x1="35.3" y1="556.4" x2="35.3" y2="671.1" stroke="#444" stroke-width="1.3"/>
<line x1="34.7" y1="670.5" x2="314.1" y2="670.5" stroke="#444" stroke-width="1.3"/>
<line x1="32.1" y1="670.5" x2="35.3" y2="670.5" stroke="#444" stroke-width="0.9"/>
<text x="28.1" y="673.4" text-anchor="end">0</text>
<line x1="32.1" y1="651.6" x2="35.3" y2="651.6" stroke="#444" stroke-width="0.9"/>
<text x="28.1" y="654.5" text-anchor="end">0.5</text>
<line x1="32.1" y1="632.7" x2="35.3" y2="632.7" stroke="#444" stroke-width="0.9"/>
<text x="28.1" y="635.6" text-anchor="end">1</text>
<line x1="32.1" y1="613.8" x2="35.3" y2="613.8" stroke="#444" stroke-width="0.9"/>
<text x="28.1" y="616.6" text-anchor="end">1.5</text>
<line x1="32.1" y1="594.8" x2="35.3" y2="594.8" stroke="#444" stroke-width="0.9"/>
<text x="28.1" y="597.7" text-anchor="end">2</text>
<line x1="32.1" y1="575.9" x2="35.3" y2="575.9" stroke="#444" stroke-width="0.9"/>
<text x="28.1" y="578.8" text-anchor="end">2.5</text>
<line x1="32.1" y1="557.0" x2="35.3" y2="557.0" stroke="#444" stroke-width="0.9"/>
<text x="28.1" y="559.9" text-anchor="end">3</text>
<line x1="35.3" y1="670.5" x2="35.3" y2="673.7" stroke="#444" stroke-width="0.9"/>
<text x="35.3" y="683.9" text-anchor="middle">2</text>
<line x1="70.1" y1="670.5" x2="70.1" y2="673.7" stroke="#444" stroke-width="0.9"/>
<text x="70.1" y="683.9" text-anchor="middle">3</text>
<line x1="104.8" y1="670.5" x2="104.8" y2="673.7" stroke="#444" stroke-width="0.9"/>
<text x="104.8" y="683.9" text-anchor="middle">4</text>
<line x1="139.6" y1="670.5" x2="139.6" y2="673.7" stroke="#444" stroke-width="0.9"/>
<text x="139.6" y="683.9" text-anchor="middle">5</text>
<line x1="174.4" y1="670.5" x2="174.4" y2="673.7" stroke="#444" stroke-width="0.9"/>
<text x="174.4" y="683.9" text-anchor="middle">6</text>
<line x1="209.2" y1="670.5" x2="209.2" y2="673.7" stroke="#444" stroke-width="0.9"/>
<text x="209.2" y="683.9" text-anchor="middle">7</text>
<line x1="243.9" y1="670.5" x2="243.9" y2="673.7" stroke="#444" stroke-width="0.9"/>
<text x="243.9" y="683.9" text-anchor="middle">8</text>
<line x1="278.7" y1="670.5" x2="278.7" y2="673.7" stroke="#444" stroke-width="0.9"/>
<text x="278.7" y="683.9" text-anchor="middle">9</text>
<line x1="313.5" y1="670.5" x2="313.5" y2="673.7" stroke="#444" stroke-width="0.9"/>
<text x="313.5" y="683.9" text-anchor="middle">10</text>
<text x="166.1" y="701.8" textLength="21.4" lengthAdjust="spacingAndGlyphs">X (m)</text>
<text transform="translate(9.3,615.2) rotate(-90)" text-anchor="middle">H/H0</text>
<text x="45.6" y="572.0" textLength="35.4" lengthAdjust="spacingAndGlyphs" style="font-size:8.6px">Section 8</text>
<circle cx="71.0" cy="642.9" r="3.5" fill="none" stroke="#222" stroke-width="0.9"/>
<circle cx="82.2" cy="646.4" r="3.5" fill="none" stroke="#222" stroke-width="0.9"/>
<circle cx="93.7" cy="647.8" r="3.5" fill="none" stroke="#222" stroke-width="0.9"/>
<circle cx="104.7" cy="648.8" r="3.5" fill="none" stroke="#222" stroke-width="0.9"/>
<circle cx="115.9" cy="648.4" r="3.5" fill="none" stroke="#222" stroke-width="0.9"/>
<circle cx="126.8" cy="647.4" r="3.5" fill="none" stroke="#222" stroke-width="0.9"/>
<circle cx="138.2" cy="646.6" r="3.5" fill="none" stroke="#222" stroke-width="0.9"/>
<circle cx="149.4" cy="643.7" r="3.5" fill="none" stroke="#222" stroke-width="0.9"/>
<circle cx="160.5" cy="640.8" r="3.5" fill="none" stroke="#222" stroke-width="0.9"/>
<circle cx="171.5" cy="638.8" r="3.5" fill="none" stroke="#222" stroke-width="0.9"/>
<circle cx="182.6" cy="636.8" r="3.5" fill="none" stroke="#222" stroke-width="0.9"/>
<circle cx="193.8" cy="634.7" r="3.5" fill="none" stroke="#222" stroke-width="0.9"/>
<circle cx="205.1" cy="633.1" r="3.5" fill="none" stroke="#222" stroke-width="0.9"/>
<circle cx="216.3" cy="632.1" r="3.5" fill="none" stroke="#222" stroke-width="0.9"/>
<circle cx="227.5" cy="631.0" r="3.5" fill="none" stroke="#222" stroke-width="0.9"/>
<circle cx="238.4" cy="631.0" r="3.5" fill="none" stroke="#222" stroke-width="0.9"/>
<circle cx="249.6" cy="631.0" r="3.5" fill="none" stroke="#222" stroke-width="0.9"/>
<circle cx="260.9" cy="633.5" r="3.5" fill="none" stroke="#222" stroke-width="0.9"/>
<circle cx="272.1" cy="635.1" r="3.5" fill="none" stroke="#222" stroke-width="0.9"/>
<circle cx="283.3" cy="637.8" r="3.5" fill="none" stroke="#222" stroke-width="0.9"/>
<path d="M71.8,644.3 C73.8,644.6 79.9,645.3 84.0,645.8 C88.1,646.3 92.2,647.0 96.3,647.4 C100.4,647.8 104.5,648.3 108.6,648.4 C112.7,648.5 116.7,648.2 120.8,647.8 C124.9,647.4 129.0,646.6 133.1,645.8 C137.2,645.0 141.3,644.0 145.4,642.9 C149.5,641.8 152.8,640.6 157.6,639.2 C162.4,637.8 169.2,636.0 174.0,634.7 C178.8,633.4 182.2,632.2 186.3,631.4 C190.4,630.6 194.8,630.3 198.5,630.0 C202.2,629.7 205.3,629.0 208.7,629.4 C212.1,629.8 215.6,631.8 219.0,632.1 C222.4,632.4 225.8,631.9 229.2,631.4 C232.6,630.9 236.0,629.6 239.4,629.4 C242.8,629.2 246.2,629.5 249.6,630.0 C253.0,630.5 256.4,631.6 259.8,632.1 C263.2,632.6 266.4,632.9 270.1,632.7 C273.9,632.5 280.3,631.3 282.3,631.0" fill="none" stroke="#ff0000" stroke-width="2.0" stroke-linecap="round" stroke-linejoin="round"/>
<path d="M35.5,644.3 C37.5,644.0 43.3,642.5 47.3,642.3 C51.3,642.1 55.8,642.3 59.5,642.9 C63.2,643.5 66.0,644.4 69.7,645.8 C73.5,647.2 77.9,649.6 82.0,651.5 C86.1,653.4 90.2,655.8 94.3,657.2 C98.4,658.6 102.4,660.0 106.5,660.1 C110.6,660.2 114.7,659.1 118.8,658.0 C122.9,656.9 127.3,655.3 131.1,653.5 C134.8,651.7 137.9,649.1 141.3,647.4 C144.7,645.7 147.8,644.6 151.5,643.3 C155.2,642.0 160.1,640.8 163.8,639.6 C167.6,638.4 170.6,637.2 174.0,636.1 C177.4,635.0 180.8,633.6 184.2,632.7 C187.6,631.8 189.3,631.1 194.4,630.6 C199.5,630.1 208.8,630.2 214.9,630.0 C221.0,629.8 226.8,629.8 231.2,629.4 C235.6,629.0 238.0,627.7 241.4,627.4 C244.8,627.1 247.6,627.1 251.7,627.4 C255.8,627.7 261.2,628.6 266.0,629.0 C270.8,629.4 275.2,629.8 280.3,630.0 C285.4,630.2 291.1,629.6 296.6,630.0 C302.1,630.4 310.7,631.8 313.5,632.1" fill="none" stroke="#0066c0" stroke-width="2.0" stroke-linecap="round" stroke-linejoin="round"/>
<path d="M35.5,643.3 C37.1,643.2 41.9,642.9 45.2,642.9 C48.5,642.9 52.0,643.0 55.4,643.3 C58.8,643.6 62.3,643.9 65.7,644.9 C69.1,645.9 72.5,647.9 75.9,649.4 C79.3,650.9 82.7,652.4 86.1,653.9 C89.5,655.4 93.6,657.7 96.3,658.6 C99.0,659.5 99.7,659.6 102.4,659.2 C105.1,658.8 109.3,657.1 112.7,656.0 C116.1,654.9 119.2,653.9 122.9,652.5 C126.6,651.1 131.3,649.1 135.1,647.4 C138.8,645.7 142.0,643.8 145.4,642.3 C148.8,640.8 152.2,639.2 155.6,638.2 C159.0,637.2 162.7,636.7 165.8,636.1 C168.9,635.5 171.3,635.4 174.0,634.7 C176.7,634.0 178.8,632.7 182.2,632.1 C185.6,631.5 190.3,631.2 194.4,631.0 C198.5,630.8 202.6,630.7 206.7,630.6 C210.8,630.5 215.2,630.6 219.0,630.6 C222.8,630.6 225.8,630.8 229.2,630.6 C232.6,630.4 236.0,629.7 239.4,629.4 C242.8,629.1 246.2,628.9 249.6,629.0 C253.0,629.1 256.4,629.7 259.8,630.0 C263.2,630.3 266.4,630.4 270.1,630.6 C273.9,630.8 278.9,630.6 282.3,631.0 C285.7,631.4 287.4,632.6 290.5,633.1 C293.6,633.6 296.9,633.5 300.7,634.1 C304.5,634.7 311.4,636.4 313.5,636.8" fill="none" stroke="#000" stroke-width="2.1" stroke-linecap="round" stroke-linejoin="round"/></g>
<g><rect x="396.6" y="559.0" width="279.9" height="115.4" fill="none" stroke="#999" stroke-width="1.3"/>
<line x1="396.6" y1="558.4" x2="396.6" y2="675.0" stroke="#444" stroke-width="1.3"/>
<line x1="396.0" y1="674.4" x2="677.1" y2="674.4" stroke="#444" stroke-width="1.3"/>
<line x1="393.4" y1="674.4" x2="396.6" y2="674.4" stroke="#444" stroke-width="0.9"/>
<text x="389.4" y="677.3" text-anchor="end">0</text>
<line x1="393.4" y1="655.2" x2="396.6" y2="655.2" stroke="#444" stroke-width="0.9"/>
<text x="389.4" y="658.1" text-anchor="end">0.5</text>
<line x1="393.4" y1="635.9" x2="396.6" y2="635.9" stroke="#444" stroke-width="0.9"/>
<text x="389.4" y="638.8" text-anchor="end">1</text>
<line x1="393.4" y1="616.7" x2="396.6" y2="616.7" stroke="#444" stroke-width="0.9"/>
<text x="389.4" y="619.6" text-anchor="end">1.5</text>
<line x1="393.4" y1="597.5" x2="396.6" y2="597.5" stroke="#444" stroke-width="0.9"/>
<text x="389.4" y="600.4" text-anchor="end">2</text>
<line x1="393.4" y1="578.2" x2="396.6" y2="578.2" stroke="#444" stroke-width="0.9"/>
<text x="389.4" y="581.1" text-anchor="end">2.5</text>
<line x1="393.4" y1="559.0" x2="396.6" y2="559.0" stroke="#444" stroke-width="0.9"/>
<text x="389.4" y="561.9" text-anchor="end">3</text>
<line x1="396.6" y1="674.4" x2="396.6" y2="677.6" stroke="#444" stroke-width="0.9"/>
<text x="396.6" y="687.8" text-anchor="middle">-4</text>
<line x1="431.6" y1="674.4" x2="431.6" y2="677.6" stroke="#444" stroke-width="0.9"/>
<text x="431.6" y="687.8" text-anchor="middle">-3</text>
<line x1="466.6" y1="674.4" x2="466.6" y2="677.6" stroke="#444" stroke-width="0.9"/>
<text x="466.6" y="687.8" text-anchor="middle">-2</text>
<line x1="501.6" y1="674.4" x2="501.6" y2="677.6" stroke="#444" stroke-width="0.9"/>
<text x="501.6" y="687.8" text-anchor="middle">-1</text>
<line x1="536.5" y1="674.4" x2="536.5" y2="677.6" stroke="#444" stroke-width="0.9"/>
<text x="536.5" y="687.8" text-anchor="middle">0</text>
<line x1="571.5" y1="674.4" x2="571.5" y2="677.6" stroke="#444" stroke-width="0.9"/>
<text x="571.5" y="687.8" text-anchor="middle">1</text>
<line x1="606.5" y1="674.4" x2="606.5" y2="677.6" stroke="#444" stroke-width="0.9"/>
<text x="606.5" y="687.8" text-anchor="middle">2</text>
<line x1="641.5" y1="674.4" x2="641.5" y2="677.6" stroke="#444" stroke-width="0.9"/>
<text x="641.5" y="687.8" text-anchor="middle">3</text>
<line x1="676.5" y1="674.4" x2="676.5" y2="677.6" stroke="#444" stroke-width="0.9"/>
<text x="676.5" y="687.8" text-anchor="middle">4</text>
<text x="528.2" y="705.7" textLength="21.4" lengthAdjust="spacingAndGlyphs">X (m)</text>
<text transform="translate(370.2,618.5) rotate(-90)" text-anchor="middle">H/H0</text>
<text x="406.8" y="573.9" textLength="35.4" lengthAdjust="spacingAndGlyphs" style="font-size:8.6px">Section 9</text>
<circle cx="429.3" cy="635.5" r="3.5" fill="none" stroke="#222" stroke-width="0.9"/>
<circle cx="440.7" cy="635.5" r="3.5" fill="none" stroke="#222" stroke-width="0.9"/>
<circle cx="452.2" cy="629.6" r="3.5" fill="none" stroke="#222" stroke-width="0.9"/>
<circle cx="463.2" cy="628.0" r="3.5" fill="none" stroke="#222" stroke-width="0.9"/>
<circle cx="474.7" cy="624.9" r="3.5" fill="none" stroke="#222" stroke-width="0.9"/>
<circle cx="485.7" cy="623.5" r="3.5" fill="none" stroke="#222" stroke-width="0.9"/>
<circle cx="497.1" cy="621.2" r="3.5" fill="none" stroke="#222" stroke-width="0.9"/>
<circle cx="508.0" cy="619.8" r="3.5" fill="none" stroke="#222" stroke-width="0.9"/>
<circle cx="519.2" cy="617.8" r="3.5" fill="none" stroke="#222" stroke-width="0.9"/>
<circle cx="530.7" cy="615.5" r="3.5" fill="none" stroke="#222" stroke-width="0.9"/>
<circle cx="542.1" cy="615.0" r="3.5" fill="none" stroke="#222" stroke-width="0.9"/>
<circle cx="553.0" cy="613.9" r="3.5" fill="none" stroke="#222" stroke-width="0.9"/>
<circle cx="564.2" cy="612.9" r="3.5" fill="none" stroke="#222" stroke-width="0.9"/>
<circle cx="575.4" cy="612.3" r="3.5" fill="none" stroke="#222" stroke-width="0.9"/>
<circle cx="586.7" cy="611.9" r="3.5" fill="none" stroke="#222" stroke-width="0.9"/>
<circle cx="597.9" cy="611.5" r="3.5" fill="none" stroke="#222" stroke-width="0.9"/>
<circle cx="609.1" cy="609.4" r="3.5" fill="none" stroke="#222" stroke-width="0.9"/>
<circle cx="620.4" cy="604.7" r="3.5" fill="none" stroke="#222" stroke-width="0.9"/>
<circle cx="631.4" cy="599.2" r="3.5" fill="none" stroke="#222" stroke-width="0.9"/>
<circle cx="642.7" cy="594.9" r="3.5" fill="none" stroke="#222" stroke-width="0.9"/>
<path d="M427.7,636.0 C428.2,635.7 428.1,635.0 430.5,634.4 C432.9,633.8 438.6,632.8 442.3,632.5 C446.0,632.2 449.4,632.4 452.9,632.5 C456.4,632.6 460.1,633.7 463.4,633.4 C466.7,633.1 469.3,631.4 472.6,630.7 C475.9,630.0 480.3,629.8 483.1,629.2 C485.9,628.6 487.9,627.9 489.6,627.2 C491.4,626.5 491.6,625.6 493.6,625.2 C495.6,624.8 498.8,624.9 501.5,625.0 C504.2,625.1 507.8,625.9 510.0,625.9 C512.2,625.9 512.7,626.0 515.0,625.3 C517.3,624.6 520.0,622.7 523.7,621.9 C527.4,621.1 533.1,620.8 537.0,620.3 C540.9,619.8 543.8,619.4 547.2,618.6 C550.6,617.8 554.0,615.6 557.4,615.4 C560.8,615.2 564.3,617.8 567.7,617.4 C571.1,617.0 574.5,614.4 577.9,612.9 C581.3,611.4 584.7,608.2 588.1,608.4 C591.5,608.6 594.9,614.3 598.3,613.9 C601.7,613.5 605.1,608.3 608.5,605.8 C611.9,603.2 615.3,600.5 618.7,598.6 C622.1,596.7 624.9,595.7 629.0,594.1 C633.1,592.5 640.9,589.7 643.3,588.8" fill="none" stroke="#ff0000" stroke-width="2.0" stroke-linecap="round" stroke-linejoin="round"/>
<path d="M397.0,640.2 C399.7,639.6 409.5,637.0 413.3,636.6 C417.1,636.2 416.7,637.6 420.0,637.7 C423.3,637.8 428.7,637.1 433.1,637.0 C437.5,636.9 441.9,637.0 446.3,636.8 C450.7,636.6 455.9,635.6 459.4,635.7 C462.9,635.9 464.7,637.2 467.3,637.7 C469.9,638.2 472.6,639.1 475.2,639.0 C477.8,638.9 480.0,637.6 483.1,636.8 C486.2,636.0 490.5,634.7 493.6,634.2 C496.7,633.7 498.8,634.0 501.5,633.8 C504.2,633.6 507.0,633.7 510.0,633.1 C513.0,632.5 517.0,631.0 519.6,630.4 C522.2,629.8 523.8,629.1 525.8,629.4 C527.8,629.7 530.0,631.6 531.9,632.1 C533.8,632.6 534.8,632.3 537.0,632.3 C539.2,632.3 542.5,633.0 545.2,632.3 C547.9,631.6 550.7,629.7 553.4,628.2 C556.1,626.7 558.1,624.3 561.5,623.5 C564.9,622.7 570.4,623.3 573.8,623.5 C577.2,623.7 579.3,624.9 582.0,624.8 C584.7,624.7 587.0,624.5 590.1,623.1 C593.2,621.7 597.0,619.0 600.4,616.6 C603.8,614.2 606.9,612.1 610.6,608.8 C614.3,605.5 619.0,599.8 622.8,596.6 C626.5,593.4 629.0,591.2 633.1,589.4 C637.2,587.6 643.0,586.2 647.4,585.9 C651.8,585.6 654.8,587.0 659.6,587.4 C664.5,587.8 673.7,588.2 676.5,588.4" fill="none" stroke="#0066c0" stroke-width="2.0" stroke-linecap="round" stroke-linejoin="round"/>
<path d="M397.0,638.6 C398.7,638.6 404.7,638.7 407.2,638.6 C409.7,638.5 409.9,638.3 412.0,638.0 C414.1,637.7 416.9,637.3 420.0,636.8 C423.1,636.3 426.1,635.5 430.5,635.1 C434.9,634.7 440.8,634.5 446.3,634.4 C451.8,634.3 459.0,634.3 463.4,634.4 C467.8,634.5 470.0,634.3 472.6,634.7 C475.2,635.1 476.9,636.5 479.1,636.8 C481.3,637.1 483.3,636.7 485.7,636.4 C488.1,636.1 491.0,635.5 493.6,635.1 C496.2,634.7 498.8,634.3 501.5,633.8 C504.2,633.2 507.0,632.5 510.0,631.8 C513.0,631.1 516.3,630.1 519.6,629.4 C522.9,628.7 526.9,627.4 529.8,627.4 C532.7,627.4 534.4,628.8 537.0,629.4 C539.6,630.0 542.5,631.3 545.2,630.9 C547.9,630.5 550.3,628.7 553.4,627.2 C556.5,625.7 560.2,623.4 563.6,622.1 C567.0,620.8 570.4,620.0 573.8,619.5 C577.2,619.0 580.6,619.1 584.0,619.0 C587.4,618.9 591.1,619.2 594.2,619.0 C597.3,618.8 599.7,619.5 602.4,618.0 C605.1,616.5 607.9,613.1 610.6,609.9 C613.3,606.7 616.0,602.0 618.7,598.6 C621.4,595.2 624.2,591.5 626.9,589.4 C629.6,587.3 632.0,586.7 635.1,586.3 C638.2,585.9 642.2,586.5 645.3,586.8 C648.4,587.1 650.4,588.1 653.5,588.0 C656.6,587.9 659.9,586.5 663.7,586.3 C667.5,586.1 674.4,586.7 676.5,586.8" fill="none" stroke="#000" stroke-width="2.1" stroke-linecap="round" stroke-linejoin="round"/></g></svg>
</body></html>
